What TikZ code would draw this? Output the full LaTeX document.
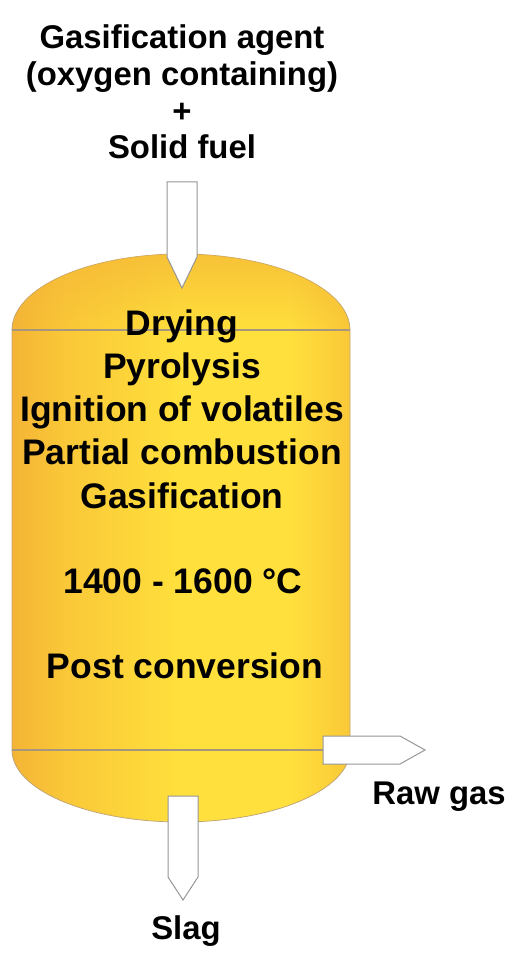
\documentclass[tikz,border=0pt]{standalone}
\usepackage{fontspec}
\setmainfont{Liberation Sans}
\usetikzlibrary{fadings}
\definecolor{vesselOrange}{RGB}{244,180,54}
\definecolor{vesselAmber}{RGB}{250,200,56}
\definecolor{vesselYellow}{RGB}{255,224,60}
\definecolor{vesselEdge}{RGB}{190,165,120}
\definecolor{seamGray}{RGB}{165,150,125}
\definecolor{portGray}{RGB}{150,150,150}
\pgfdeclarehorizontalshading{vesselshade}{100bp}{color(0bp)=(vesselOrange); color(25bp)=(vesselOrange);
  color(33bp)=(vesselAmber); color(50bp)=(vesselYellow); color(66bp)=(vesselYellow);
  color(75bp)=(vesselAmber); color(100bp)=(vesselAmber)}
\tikzfading[name=capfade, top color=transparent!20, bottom color=transparent!100]
\tikzset{
  outer/.style={font=\fontsize{18.7}{21}\selectfont\bfseries, align=center, inner sep=0pt},
  inner/.style={font=\fontsize{20.2}{24.6}\selectfont\bfseries, align=center, inner sep=0pt},
  port/.style={draw=portGray, line width=0.2mm, fill=white, line join=miter},
  seam/.style={draw=seamGray, line width=0.22mm}
}
\begin{document}
\begin{tikzpicture}[x=0.2mm,y=-0.2mm]
    \useasboundingbox (0,0) rectangle (530,970);
    % vessel body
    \path[shading=vesselshade, draw=vesselEdge, line width=0.15mm]
      (12,330) arc[start angle=180, end angle=360, x radius=169, y radius=76]
      -- (350,750) arc[start angle=0, end angle=180, x radius=169, y radius=72] -- cycle;
    \fill[vesselOrange, path fading=capfade, fill opacity=0.85]
      (12,330) arc[start angle=180, end angle=360, x radius=169, y radius=76] -- cycle;
    \draw[seam] (12,330) -- (350,330);
    \draw[seam] (12,750) -- (350,750);
    % feed, gas and slag ports
    \draw[port] (167,182) -- (197,182) -- (197,257) -- (182,288) -- (167,257) -- cycle;
    \draw[port] (323,736) -- (400,736) -- (425,750) -- (400,764) -- (323,764) -- cycle;
    \draw[port] (168,796) -- (198,796) -- (198,877) -- (183,900) -- (168,877) -- cycle;
    % labels (base = last line)
    \node[outer, anchor=base] (feed) at (182,159) {Gasification agent\\(oxygen containing)\\+\\Solid fuel};
    \node[inner, anchor=base] (zones) at (182,508) {Drying\\Pyrolysis\\Ignition of volatiles\\Partial combustion\\Gasification};
    \node[inner, anchor=base] (temp) at (183,593) {1400 - 1600 °C};
    \node[inner, anchor=base] (post) at (185,678) {Post conversion};
    \node[outer, anchor=base] (rawgas) at (439,804) {Raw gas};
    \node[outer, anchor=base] (slag) at (186,939) {Slag};
  \end{tikzpicture}
\end{document}
